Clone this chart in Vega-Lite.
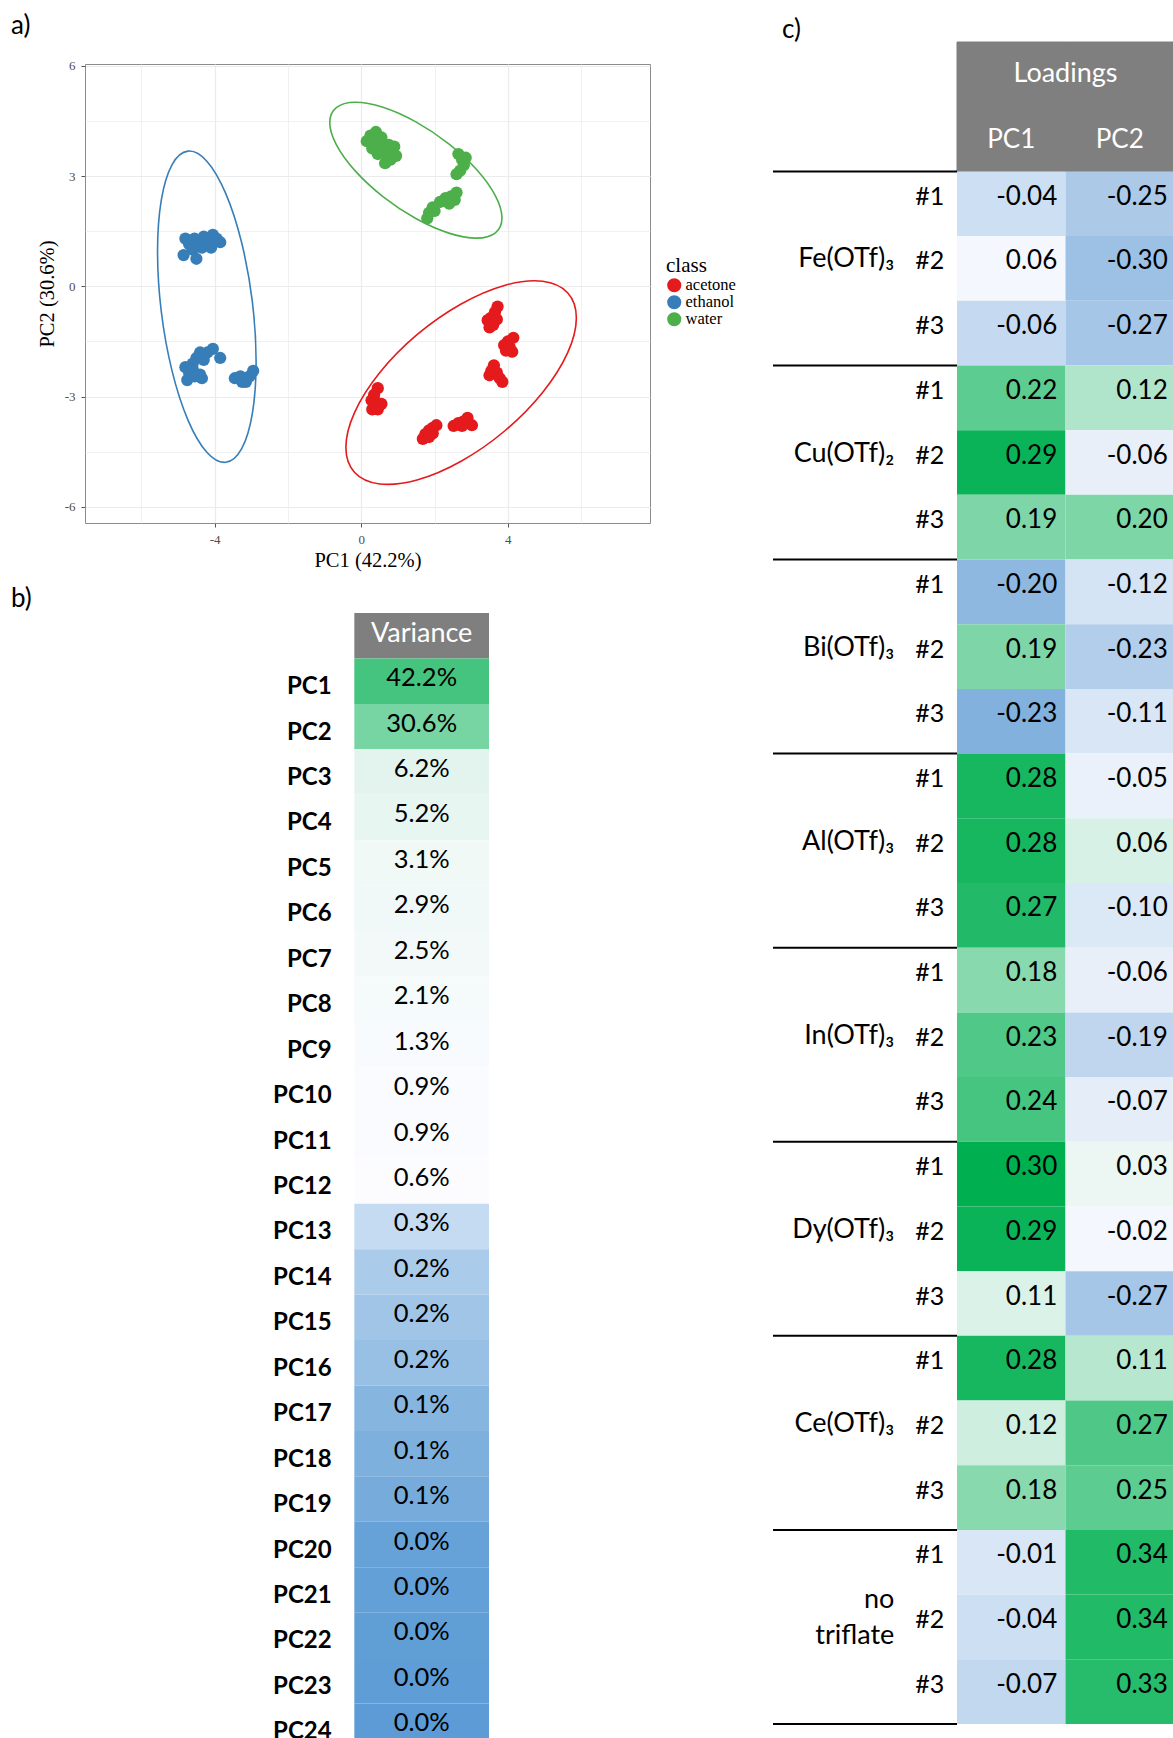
{
  "$schema": "https://vega.github.io/schema/vega-lite/v6.json",
  "padding": {"left": 10, "top": 12, "right": 0, "bottom": 0},
  "background": "white",
  "config": {
    "view": {"stroke": null},
    "locale": {"number": {"decimal": ".", "thousands": ",", "grouping": [3], "currency": ["$", ""], "minus": "-"}},
    "title": {"font": "Lato", "fontSize": 26, "fontWeight": "normal", "color": "#000000", "anchor": "start", "frame": "group"}
  },
  "datasets": {
    "ellipses": [
      {"cls": "ethanol", "k": 0, "x": -2.870, "y": -2.055},
      {"cls": "ethanol", "k": 1, "x": -2.972, "y": -0.425},
      {"cls": "ethanol", "k": 2, "x": -3.264, "y": 1.185},
      {"cls": "ethanol", "k": 3, "x": -3.700, "y": 2.530},
      {"cls": "ethanol", "k": 4, "x": -4.215, "y": 3.406},
      {"cls": "ethanol", "k": 5, "x": -4.730, "y": 3.679},
      {"cls": "ethanol", "k": 6, "x": -5.166, "y": 3.307},
      {"cls": "ethanol", "k": 7, "x": -5.458, "y": 2.347},
      {"cls": "ethanol", "k": 8, "x": -5.560, "y": 0.945},
      {"cls": "ethanol", "k": 9, "x": -5.458, "y": -0.685},
      {"cls": "ethanol", "k": 10, "x": -5.166, "y": -2.295},
      {"cls": "ethanol", "k": 11, "x": -4.730, "y": -3.640},
      {"cls": "ethanol", "k": 12, "x": -4.215, "y": -4.516},
      {"cls": "ethanol", "k": 13, "x": -3.700, "y": -4.789},
      {"cls": "ethanol", "k": 14, "x": -3.264, "y": -4.417},
      {"cls": "ethanol", "k": 15, "x": -2.972, "y": -3.457},
      {"cls": "water", "k": 0, "x": 3.840, "y": 1.860},
      {"cls": "water", "k": 1, "x": 3.661, "y": 2.462},
      {"cls": "water", "k": 2, "x": 3.152, "y": 3.171},
      {"cls": "water", "k": 3, "x": 2.389, "y": 3.877},
      {"cls": "water", "k": 4, "x": 1.490, "y": 4.475},
      {"cls": "water", "k": 5, "x": 0.591, "y": 4.872},
      {"cls": "water", "k": 6, "x": -0.172, "y": 5.009},
      {"cls": "water", "k": 7, "x": -0.681, "y": 4.864},
      {"cls": "water", "k": 8, "x": -0.860, "y": 4.460},
      {"cls": "water", "k": 9, "x": -0.681, "y": 3.858},
      {"cls": "water", "k": 10, "x": -0.172, "y": 3.149},
      {"cls": "water", "k": 11, "x": 0.591, "y": 2.443},
      {"cls": "water", "k": 12, "x": 1.490, "y": 1.845},
      {"cls": "water", "k": 13, "x": 2.389, "y": 1.448},
      {"cls": "water", "k": 14, "x": 3.152, "y": 1.311},
      {"cls": "water", "k": 15, "x": 3.661, "y": 1.456},
      {"cls": "acetone", "k": 0, "x": 5.870, "y": -0.860},
      {"cls": "acetone", "k": 1, "x": 5.631, "y": -0.175},
      {"cls": "acetone", "k": 2, "x": 4.949, "y": 0.137},
      {"cls": "acetone", "k": 3, "x": 3.929, "y": 0.030},
      {"cls": "acetone", "k": 4, "x": 2.725, "y": -0.481},
      {"cls": "acetone", "k": 5, "x": 1.521, "y": -1.317},
      {"cls": "acetone", "k": 6, "x": 0.501, "y": -2.352},
      {"cls": "acetone", "k": 7, "x": -0.181, "y": -3.428},
      {"cls": "acetone", "k": 8, "x": -0.420, "y": -4.380},
      {"cls": "acetone", "k": 9, "x": -0.181, "y": -5.065},
      {"cls": "acetone", "k": 10, "x": 0.501, "y": -5.377},
      {"cls": "acetone", "k": 11, "x": 1.521, "y": -5.270},
      {"cls": "acetone", "k": 12, "x": 2.725, "y": -4.759},
      {"cls": "acetone", "k": 13, "x": 3.929, "y": -3.923},
      {"cls": "acetone", "k": 14, "x": 4.949, "y": -2.888},
      {"cls": "acetone", "k": 15, "x": 5.631, "y": -1.812}
    ],
    "points": [
      {"cls": "water", "x": 0.15, "y": 3.95}, {"cls": "water", "x": 0.25, "y": 4.1}, {"cls": "water", "x": 0.4, "y": 4.2}, {"cls": "water", "x": 0.35, "y": 3.85},
      {"cls": "water", "x": 0.5, "y": 3.95}, {"cls": "water", "x": 0.6, "y": 3.8}, {"cls": "water", "x": 0.75, "y": 3.85}, {"cls": "water", "x": 0.85, "y": 3.7},
      {"cls": "water", "x": 0.95, "y": 3.55}, {"cls": "water", "x": 0.8, "y": 3.45}, {"cls": "water", "x": 0.65, "y": 3.35}, {"cls": "water", "x": 0.45, "y": 3.6},
      {"cls": "water", "x": 0.3, "y": 3.75}, {"cls": "water", "x": 0.55, "y": 4.05}, {"cls": "water", "x": 0.9, "y": 3.8}, {"cls": "water", "x": 0.7, "y": 3.6},
      {"cls": "water", "x": 2.65, "y": 3.6}, {"cls": "water", "x": 2.75, "y": 3.45}, {"cls": "water", "x": 2.8, "y": 3.3}, {"cls": "water", "x": 2.7, "y": 3.15},
      {"cls": "water", "x": 2.6, "y": 3.05}, {"cls": "water", "x": 2.85, "y": 3.5},
      {"cls": "water", "x": 2.3, "y": 2.4}, {"cls": "water", "x": 2.45, "y": 2.45}, {"cls": "water", "x": 2.6, "y": 2.55}, {"cls": "water", "x": 2.55, "y": 2.35},
      {"cls": "water", "x": 2.4, "y": 2.25}, {"cls": "water", "x": 2.15, "y": 2.3},
      {"cls": "water", "x": 1.95, "y": 2.15}, {"cls": "water", "x": 1.85, "y": 2.0}, {"cls": "water", "x": 1.8, "y": 1.85}, {"cls": "water", "x": 2.0, "y": 2.05},
      {"cls": "ethanol", "x": -4.8, "y": 1.3}, {"cls": "ethanol", "x": -4.7, "y": 1.15}, {"cls": "ethanol", "x": -4.85, "y": 0.85}, {"cls": "ethanol", "x": -4.6, "y": 1.0},
      {"cls": "ethanol", "x": -4.5, "y": 0.75}, {"cls": "ethanol", "x": -4.45, "y": 1.2}, {"cls": "ethanol", "x": -4.3, "y": 1.35}, {"cls": "ethanol", "x": -4.2, "y": 1.15},
      {"cls": "ethanol", "x": -4.05, "y": 1.4}, {"cls": "ethanol", "x": -3.95, "y": 1.3}, {"cls": "ethanol", "x": -3.85, "y": 1.2}, {"cls": "ethanol", "x": -4.1, "y": 1.05},
      {"cls": "ethanol", "x": -4.55, "y": 1.3}, {"cls": "ethanol", "x": -4.35, "y": 1.05},
      {"cls": "ethanol", "x": -4.05, "y": -1.7}, {"cls": "ethanol", "x": -4.2, "y": -1.8}, {"cls": "ethanol", "x": -4.4, "y": -1.8}, {"cls": "ethanol", "x": -4.5, "y": -1.95},
      {"cls": "ethanol", "x": -4.6, "y": -2.1}, {"cls": "ethanol", "x": -4.8, "y": -2.2}, {"cls": "ethanol", "x": -4.7, "y": -2.35}, {"cls": "ethanol", "x": -4.75, "y": -2.55},
      {"cls": "ethanol", "x": -4.55, "y": -2.45}, {"cls": "ethanol", "x": -4.4, "y": -2.4}, {"cls": "ethanol", "x": -4.35, "y": -2.5}, {"cls": "ethanol", "x": -3.85, "y": -1.95},
      {"cls": "ethanol", "x": -4.6, "y": -2.25}, {"cls": "ethanol", "x": -4.3, "y": -2.0},
      {"cls": "ethanol", "x": -3.45, "y": -2.5}, {"cls": "ethanol", "x": -3.3, "y": -2.45}, {"cls": "ethanol", "x": -3.15, "y": -2.6}, {"cls": "ethanol", "x": -3.05, "y": -2.45},
      {"cls": "ethanol", "x": -2.95, "y": -2.3}, {"cls": "ethanol", "x": -3.25, "y": -2.6},
      {"cls": "acetone", "x": 3.72, "y": -0.55}, {"cls": "acetone", "x": 3.65, "y": -0.7}, {"cls": "acetone", "x": 3.55, "y": -0.85}, {"cls": "acetone", "x": 3.45, "y": -0.92},
      {"cls": "acetone", "x": 3.7, "y": -0.9}, {"cls": "acetone", "x": 3.6, "y": -1.05}, {"cls": "acetone", "x": 3.5, "y": -1.12},
      {"cls": "acetone", "x": 4.15, "y": -1.4}, {"cls": "acetone", "x": 4.0, "y": -1.5}, {"cls": "acetone", "x": 3.9, "y": -1.6}, {"cls": "acetone", "x": 4.05, "y": -1.65},
      {"cls": "acetone", "x": 4.12, "y": -1.78}, {"cls": "acetone", "x": 3.95, "y": -1.75},
      {"cls": "acetone", "x": 3.62, "y": -2.15}, {"cls": "acetone", "x": 3.55, "y": -2.3}, {"cls": "acetone", "x": 3.5, "y": -2.42}, {"cls": "acetone", "x": 3.7, "y": -2.35},
      {"cls": "acetone", "x": 3.78, "y": -2.5}, {"cls": "acetone", "x": 3.85, "y": -2.6},
      {"cls": "acetone", "x": 0.45, "y": -2.77}, {"cls": "acetone", "x": 0.35, "y": -2.95}, {"cls": "acetone", "x": 0.28, "y": -3.1}, {"cls": "acetone", "x": 0.4, "y": -3.15},
      {"cls": "acetone", "x": 0.55, "y": -3.2}, {"cls": "acetone", "x": 0.3, "y": -3.35}, {"cls": "acetone", "x": 0.45, "y": -3.35},
      {"cls": "acetone", "x": 2.05, "y": -3.78}, {"cls": "acetone", "x": 1.95, "y": -3.85}, {"cls": "acetone", "x": 1.85, "y": -3.92}, {"cls": "acetone", "x": 1.75, "y": -4.02},
      {"cls": "acetone", "x": 1.68, "y": -4.15}, {"cls": "acetone", "x": 1.85, "y": -4.1}, {"cls": "acetone", "x": 1.95, "y": -4.0},
      {"cls": "acetone", "x": 2.52, "y": -3.8}, {"cls": "acetone", "x": 2.65, "y": -3.72}, {"cls": "acetone", "x": 2.78, "y": -3.68}, {"cls": "acetone", "x": 2.9, "y": -3.58},
      {"cls": "acetone", "x": 3.02, "y": -3.78}, {"cls": "acetone", "x": 2.75, "y": -3.8}
    ],
    "variance": [
      {"pc": "PC1", "variance": 0.422}, {"pc": "PC2", "variance": 0.306}, {"pc": "PC3", "variance": 0.062}, {"pc": "PC4", "variance": 0.052},
      {"pc": "PC5", "variance": 0.031}, {"pc": "PC6", "variance": 0.029}, {"pc": "PC7", "variance": 0.025}, {"pc": "PC8", "variance": 0.021},
      {"pc": "PC9", "variance": 0.013}, {"pc": "PC10", "variance": 0.009}, {"pc": "PC11", "variance": 0.009}, {"pc": "PC12", "variance": 0.006},
      {"pc": "PC13", "variance": 0.0033}, {"pc": "PC14", "variance": 0.00245}, {"pc": "PC15", "variance": 0.00217}, {"pc": "PC16", "variance": 0.0019},
      {"pc": "PC17", "variance": 0.00133}, {"pc": "PC18", "variance": 0.00108}, {"pc": "PC19", "variance": 0.00084}, {"pc": "PC20", "variance": 0.00035},
      {"pc": "PC21", "variance": 0.00025}, {"pc": "PC22", "variance": 0.00015}, {"pc": "PC23", "variance": 0.0001}, {"pc": "PC24", "variance": 0.00002}
    ],
    "loadings": [
      {"id": "Fe1", "g": "Fe(OTf)₃", "r": "#1", "pc1": -0.04, "pc2": -0.25},
      {"id": "Fe2", "g": "Fe(OTf)₃", "r": "#2", "pc1": 0.06, "pc2": -0.30},
      {"id": "Fe3", "g": "Fe(OTf)₃", "r": "#3", "pc1": -0.06, "pc2": -0.27},
      {"id": "Cu1", "g": "Cu(OTf)₂", "r": "#1", "pc1": 0.22, "pc2": 0.12},
      {"id": "Cu2", "g": "Cu(OTf)₂", "r": "#2", "pc1": 0.29, "pc2": -0.06},
      {"id": "Cu3", "g": "Cu(OTf)₂", "r": "#3", "pc1": 0.19, "pc2": 0.20},
      {"id": "Bi1", "g": "Bi(OTf)₃", "r": "#1", "pc1": -0.20, "pc2": -0.12},
      {"id": "Bi2", "g": "Bi(OTf)₃", "r": "#2", "pc1": 0.19, "pc2": -0.23},
      {"id": "Bi3", "g": "Bi(OTf)₃", "r": "#3", "pc1": -0.23, "pc2": -0.11},
      {"id": "Al1", "g": "Al(OTf)₃", "r": "#1", "pc1": 0.28, "pc2": -0.05},
      {"id": "Al2", "g": "Al(OTf)₃", "r": "#2", "pc1": 0.28, "pc2": 0.06},
      {"id": "Al3", "g": "Al(OTf)₃", "r": "#3", "pc1": 0.27, "pc2": -0.10},
      {"id": "In1", "g": "In(OTf)₃", "r": "#1", "pc1": 0.18, "pc2": -0.06},
      {"id": "In2", "g": "In(OTf)₃", "r": "#2", "pc1": 0.23, "pc2": -0.19},
      {"id": "In3", "g": "In(OTf)₃", "r": "#3", "pc1": 0.24, "pc2": -0.07},
      {"id": "Dy1", "g": "Dy(OTf)₃", "r": "#1", "pc1": 0.30, "pc2": 0.03},
      {"id": "Dy2", "g": "Dy(OTf)₃", "r": "#2", "pc1": 0.29, "pc2": -0.02},
      {"id": "Dy3", "g": "Dy(OTf)₃", "r": "#3", "pc1": 0.11, "pc2": -0.27},
      {"id": "Ce1", "g": "Ce(OTf)₃", "r": "#1", "pc1": 0.28, "pc2": 0.11},
      {"id": "Ce2", "g": "Ce(OTf)₃", "r": "#2", "pc1": 0.12, "pc2": 0.27},
      {"id": "Ce3", "g": "Ce(OTf)₃", "r": "#3", "pc1": 0.18, "pc2": 0.25},
      {"id": "No1", "g": "no\ntriflate", "r": "#1", "pc1": -0.01, "pc2": 0.34},
      {"id": "No2", "g": "no\ntriflate", "r": "#2", "pc1": -0.04, "pc2": 0.34},
      {"id": "No3", "g": "no\ntriflate", "r": "#3", "pc1": -0.07, "pc2": 0.33}
    ]
  },
  "resolve": {"scale": {"color": "independent", "x": "independent", "y": "independent"}},
  "spacing": 35,
  "hconcat": [
    {
      "spacing": 15,
      "resolve": {"scale": {"color": "independent", "x": "independent", "y": "independent"}},
      "vconcat": [
        {
          "title": {"text": "a)", "dx": -74, "offset": 21},
          "width": 565,
          "height": 459,
          "view": {"stroke": "#8c8c8c", "strokeWidth": 1},
          "layer": [
            {
              "data": {"name": "ellipses"},
              "mark": {"type": "line", "interpolate": "cardinal-closed", "strokeWidth": 1.6},
              "encoding": {
                "x": {"field": "x", "type": "quantitative", "scale": {"domain": [-7.54, 7.88], "nice": false, "zero": false},
                  "axis": {"title": "PC1 (42.2%)", "values": [-6, -4, -2, 0, 2, 4, 6], "labelExpr": "datum.value % 4 === 0 ? datum.label : ''",
                    "domain": false, "grid": true, "gridColor": "#ebebeb",
                    "gridWidth": {"condition": {"test": "datum.value % 4 === 0", "value": 1.2}, "value": 0.7},
                    "tickOpacity": {"condition": {"test": "datum.value % 4 === 0", "value": 1}, "value": 0},
                    "tickColor": "#555555", "tickSize": 4, "labelFont": "Liberation Serif", "labelFontSize": 13, "labelColor": "#4d4d4d", "labelPadding": 6,
                    "labelOverlap": false, "titleFont": "Liberation Serif", "titleFontSize": 20.5, "titleFontWeight": "normal", "titleColor": "#000000", "titlePadding": 4}},
                "y": {"field": "y", "type": "quantitative", "scale": {"domain": [-6.44, 6.05], "nice": false, "zero": false},
                  "axis": {"title": "PC2 (30.6%)", "values": [-6, -4.5, -3, -1.5, 0, 1.5, 3, 4.5, 6], "labelExpr": "datum.value % 3 === 0 ? datum.label : ''",
                    "domain": false, "grid": true, "gridColor": "#ebebeb",
                    "gridWidth": {"condition": {"test": "datum.value % 3 === 0", "value": 1.2}, "value": 0.7},
                    "tickOpacity": {"condition": {"test": "datum.value % 3 === 0", "value": 1}, "value": 0},
                    "tickColor": "#555555", "tickSize": 4, "labelFont": "Liberation Serif", "labelFontSize": 13, "labelColor": "#4d4d4d", "labelPadding": 6,
                    "labelOverlap": false, "titleFont": "Liberation Serif", "titleFontSize": 20.5, "titleFontWeight": "normal", "titleColor": "#000000", "titlePadding": 7}},
                "order": {"field": "k", "type": "quantitative"},
                "detail": {"field": "cls", "type": "nominal"},
                "stroke": {"field": "cls", "type": "nominal", "scale": {"domain": ["acetone", "ethanol", "water"], "range": ["#e41a1c", "#377eb8", "#4daf4a"]}, "legend": null}
              }
            },
            {
              "data": {"name": "points"},
              "mark": {"type": "circle", "size": 150, "opacity": 1},
              "encoding": {
                "x": {"field": "x", "type": "quantitative"},
                "y": {"field": "y", "type": "quantitative"},
                "color": {"field": "cls", "type": "nominal", "scale": {"domain": ["acetone", "ethanol", "water"], "range": ["#e41a1c", "#377eb8", "#4daf4a"]},
                  "legend": {"title": "class", "orient": "none", "legendX": 581, "legendY": 191, "titleFont": "Liberation Serif", "titleFontSize": 21,
                    "titleFontWeight": "normal", "titleColor": "#000000", "titlePadding": 1, "labelFont": "Liberation Serif", "labelFontSize": 16.5,
                    "labelColor": "#000000", "symbolSize": 200, "symbolType": "circle", "rowPadding": -1, "labelOffset": 3, "padding": 0}}
              }
            }
          ]
        },
        {
          "title": {"text": "b)", "dx": -74, "offset": 1},
          "width": 404,
          "height": 1136,
          "layer": [
            {
              "data": {"values": [{"pc": "Variance"}]},
              "mark": {"type": "rect", "color": "#7f7f7f"},
              "encoding": {
                "x": {"datum": "Variance", "type": "nominal", "scale": {"domain": ["Variance"], "paddingInner": 0, "paddingOuter": 1.0075, "align": 1}, "axis": null},
                "y": {"field": "pc", "type": "nominal", "scale": {"domain": ["Variance", "PC1", "PC2", "PC3", "PC4", "PC5", "PC6", "PC7", "PC8", "PC9", "PC10", "PC11", "PC12", "PC13", "PC14", "PC15", "PC16", "PC17", "PC18", "PC19", "PC20", "PC21", "PC22", "PC23", "PC24"], "paddingInner": 0, "paddingOuter": 0}, "axis": null}
              }
            },
            {
              "data": {"values": [{"pc": "Variance"}]},
              "mark": {"type": "text", "font": "Lato", "fontSize": 27, "color": "#ffffff", "dy": -2},
              "encoding": {
                "x": {"datum": "Variance", "type": "nominal"},
                "y": {"field": "pc", "type": "nominal"},
                "text": {"field": "pc", "type": "nominal"}
              }
            },
            {
              "data": {"name": "variance"},
              "mark": {"type": "rect"},
              "encoding": {
                "x": {"datum": "Variance", "type": "nominal"},
                "y": {"field": "pc", "type": "nominal"},
                "color": {"field": "variance", "type": "quantitative", "scale": {"domain": [0, 0.005, 0.576], "range": ["#5b9bd5", "#fcfcff", "#00b050"], "interpolate": "rgb", "nice": false, "zero": false}, "legend": null}
              }
            },
            {
              "data": {"name": "variance"},
              "mark": {"type": "text", "font": "Lato", "fontSize": 25.5, "color": "#000000", "dy": -3},
              "encoding": {
                "x": {"datum": "Variance", "type": "nominal"},
                "y": {"field": "pc", "type": "nominal"},
                "text": {"field": "variance", "type": "quantitative", "format": ".1%"}
              }
            },
            {
              "data": {"name": "variance"},
              "mark": {"type": "text", "font": "Lato", "fontSize": 24, "fontWeight": "bold", "color": "#000000", "align": "right", "dx": -90, "dy": 6},
              "encoding": {
                "x": {"datum": "Variance", "type": "nominal"},
                "y": {"field": "pc", "type": "nominal"},
                "text": {"field": "pc", "type": "nominal"}
              }
            }
          ]
        }
      ]
    },
    {
      "vconcat": [
        {
          "title": {"text": "c)", "dx": -175, "offset": -1},
          "width": 217,
          "height": 1682,
          "resolve": {"scale": {"color": "independent"}},
          "layer": [
            {
              "data": {"values": [{"id": "H1", "col": "PC1"}, {"id": "H1", "col": "PC2"}, {"id": "H2", "col": "PC1"}, {"id": "H2", "col": "PC2"}]},
              "mark": {"type": "rect", "color": "#7f7f7f", "stroke": "#7f7f7f", "strokeWidth": 1},
              "encoding": {
                "x": {"field": "col", "type": "nominal", "scale": {"domain": ["PC1", "PC2"], "paddingInner": 0, "paddingOuter": 0}, "axis": null},
                "y": {"field": "id", "type": "nominal", "scale": {"domain": ["H1", "H2", "Fe1", "Fe2", "Fe3", "Cu1", "Cu2", "Cu3", "Bi1", "Bi2", "Bi3", "Al1", "Al2", "Al3", "In1", "In2", "In3", "Dy1", "Dy2", "Dy3", "Ce1", "Ce2", "Ce3", "No1", "No2", "No3"], "range": [-22, 1660], "paddingInner": 0, "paddingOuter": 0}, "axis": null}
              }
            },
            {
              "data": {"values": [{"id": "H1", "col": "PC2", "t": "Loadings"}]},
              "mark": {"type": "text", "font": "Lato", "fontSize": 27, "color": "#ffffff", "dy": 0},
              "encoding": {
                "x": {"field": "col", "type": "nominal", "bandPosition": 0},
                "y": {"field": "id", "type": "nominal"},
                "text": {"field": "t", "type": "nominal"}
              }
            },
            {
              "data": {"values": [{"id": "H2", "col": "PC1"}, {"id": "H2", "col": "PC2"}]},
              "mark": {"type": "text", "font": "Lato", "fontSize": 26, "color": "#ffffff", "dy": 1},
              "encoding": {
                "x": {"field": "col", "type": "nominal"},
                "y": {"field": "id", "type": "nominal"},
                "text": {"field": "col", "type": "nominal"}
              }
            },
            {
              "data": {"name": "loadings"},
              "mark": {"type": "rect"},
              "encoding": {
                "x": {"datum": "PC1", "type": "nominal"},
                "y": {"field": "id", "type": "nominal"},
                "color": {"field": "pc1", "type": "quantitative", "scale": {"domain": [-0.23, 0.08, 0.30], "range": ["#83b1dd", "#fcfcff", "#00b050"], "interpolate": "rgb", "nice": false, "zero": false}, "legend": null}
              }
            },
            {
              "data": {"name": "loadings"},
              "mark": {"type": "rect"},
              "encoding": {
                "x": {"datum": "PC2", "type": "nominal"},
                "y": {"field": "id", "type": "nominal"},
                "color": {"field": "pc2", "type": "quantitative", "scale": {"domain": [-0.38, 0.005, 0.39], "range": ["#83b1dd", "#fcfcff", "#00b050"], "interpolate": "rgb", "nice": false, "zero": false}, "legend": null}
              }
            },
            {
              "data": {"name": "loadings"},
              "mark": {"type": "text", "font": "Lato", "fontSize": 26, "color": "#000000", "align": "right", "dx": 46, "dy": -7},
              "encoding": {
                "x": {"datum": "PC1", "type": "nominal"},
                "y": {"field": "id", "type": "nominal"},
                "text": {"field": "pc1", "type": "quantitative", "format": ".2f"}
              }
            },
            {
              "data": {"name": "loadings"},
              "mark": {"type": "text", "font": "Lato", "fontSize": 26, "color": "#000000", "align": "right", "dx": 48, "dy": -7},
              "encoding": {
                "x": {"datum": "PC2", "type": "nominal"},
                "y": {"field": "id", "type": "nominal"},
                "text": {"field": "pc2", "type": "quantitative", "format": ".2f"}
              }
            },
            {
              "data": {"name": "loadings"},
              "mark": {"type": "text", "font": "Lato", "fontSize": 25, "color": "#000000", "align": "right", "dx": -67, "dy": -7},
              "encoding": {
                "x": {"datum": "PC1", "type": "nominal"},
                "y": {"field": "id", "type": "nominal"},
                "text": {"field": "r", "type": "nominal"}
              }
            },
            {
              "data": {"name": "loadings"},
              "transform": [{"filter": "datum.r === '#2' && datum.id !== 'No2'"}],
              "mark": {"type": "text", "font": "Lato", "fontSize": 27, "color": "#000000", "align": "right", "dx": -117, "dy": -9},
              "encoding": {
                "x": {"datum": "PC1", "type": "nominal"},
                "y": {"field": "id", "type": "nominal"},
                "text": {"field": "g", "type": "nominal"}
              }
            },
            {
              "data": {"name": "loadings"},
              "transform": [{"filter": "datum.id === 'No2'"}],
              "mark": {"type": "text", "font": "Lato", "fontSize": 27, "color": "#000000", "align": "right", "dx": -117, "dy": -27, "lineBreak": "\n", "lineHeight": 36},
              "encoding": {
                "x": {"datum": "PC1", "type": "nominal"},
                "y": {"field": "id", "type": "nominal"},
                "text": {"field": "g", "type": "nominal"}
              }
            },
            {
              "data": {"name": "loadings"},
              "transform": [{"filter": "datum.r === '#1'"}],
              "mark": {"type": "rule", "color": "#000000", "strokeWidth": 2, "xOffset": -54.25, "x2Offset": -238.25},
              "encoding": {
                "x": {"datum": "PC1", "type": "nominal"},
                "x2": {"datum": "PC1"},
                "y": {"field": "id", "type": "nominal", "bandPosition": 0}
              }
            },
            {
              "data": {"name": "loadings"},
              "transform": [{"filter": "datum.id === 'No3'"}],
              "mark": {"type": "rule", "color": "#000000", "strokeWidth": 2, "xOffset": -54.25, "x2Offset": -238.25},
              "encoding": {
                "x": {"datum": "PC1", "type": "nominal"},
                "x2": {"datum": "PC1"},
                "y": {"field": "id", "type": "nominal", "bandPosition": 1}
              }
            }
          ]
        }
      ]
    }
  ]
}
